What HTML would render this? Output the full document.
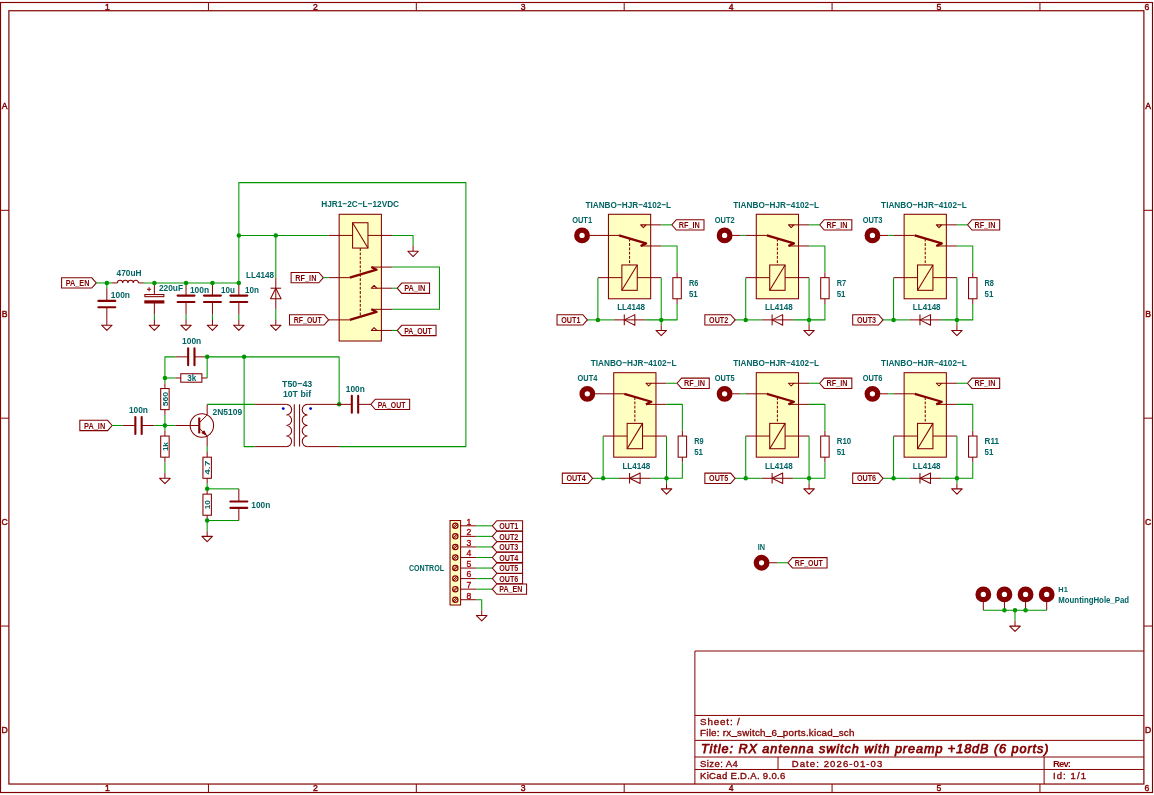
<!DOCTYPE html>
<html><head><meta charset="utf-8"><style>
html,body{margin:0;padding:0;background:#fff;width:1154px;height:795px;overflow:hidden}
svg{display:block;font-family:"Liberation Sans",sans-serif;will-change:transform}
</style></head><body>
<svg width="1154" height="795" viewBox="0 0 1154 795">
<rect width="1154" height="795" fill="#fff"/>
<g opacity="0.999">
<rect x="0.5" y="2.5" width="1152" height="790" stroke="#840000" stroke-width="1.15" fill="none"/>
<rect x="8.89" y="10.74" width="1135" height="773.29" stroke="#840000" stroke-width="1.2" fill="none"/>
<line x1="208.45" y1="2.42" x2="208.45" y2="10.74" stroke="#840000" stroke-width="1"/>
<line x1="208.45" y1="784.03" x2="208.45" y2="792.35" stroke="#840000" stroke-width="1"/>
<line x1="416.32" y1="2.42" x2="416.32" y2="10.74" stroke="#840000" stroke-width="1"/>
<line x1="416.32" y1="784.03" x2="416.32" y2="792.35" stroke="#840000" stroke-width="1"/>
<line x1="624.2" y1="2.42" x2="624.2" y2="10.74" stroke="#840000" stroke-width="1"/>
<line x1="624.2" y1="784.03" x2="624.2" y2="792.35" stroke="#840000" stroke-width="1"/>
<line x1="832.07" y1="2.42" x2="832.07" y2="10.74" stroke="#840000" stroke-width="1"/>
<line x1="832.07" y1="784.03" x2="832.07" y2="792.35" stroke="#840000" stroke-width="1"/>
<line x1="1039.95" y1="2.42" x2="1039.95" y2="10.74" stroke="#840000" stroke-width="1"/>
<line x1="1039.95" y1="784.03" x2="1039.95" y2="792.35" stroke="#840000" stroke-width="1"/>
<line x1="0.57" y1="210.3" x2="8.89" y2="210.3" stroke="#840000" stroke-width="1"/>
<line x1="1143.89" y1="210.3" x2="1152.2" y2="210.3" stroke="#840000" stroke-width="1"/>
<line x1="0.57" y1="418.18" x2="8.89" y2="418.18" stroke="#840000" stroke-width="1"/>
<line x1="1143.89" y1="418.18" x2="1152.2" y2="418.18" stroke="#840000" stroke-width="1"/>
<line x1="0.57" y1="626.05" x2="8.89" y2="626.05" stroke="#840000" stroke-width="1"/>
<line x1="1143.89" y1="626.05" x2="1152.2" y2="626.05" stroke="#840000" stroke-width="1"/>
<text x="107.41" y="9.68" font-size="8.6" fill="#840000" text-anchor="middle" stroke="#840000" stroke-width="0.45">1</text>
<text x="107.41" y="791.29" font-size="8.6" fill="#840000" text-anchor="middle" stroke="#840000" stroke-width="0.45">1</text>
<text x="315.29" y="9.68" font-size="8.6" fill="#840000" text-anchor="middle" stroke="#840000" stroke-width="0.45">2</text>
<text x="315.29" y="791.29" font-size="8.6" fill="#840000" text-anchor="middle" stroke="#840000" stroke-width="0.45">2</text>
<text x="523.16" y="9.68" font-size="8.6" fill="#840000" text-anchor="middle" stroke="#840000" stroke-width="0.45">3</text>
<text x="523.16" y="791.29" font-size="8.6" fill="#840000" text-anchor="middle" stroke="#840000" stroke-width="0.45">3</text>
<text x="731.04" y="9.68" font-size="8.6" fill="#840000" text-anchor="middle" stroke="#840000" stroke-width="0.45">4</text>
<text x="731.04" y="791.29" font-size="8.6" fill="#840000" text-anchor="middle" stroke="#840000" stroke-width="0.45">4</text>
<text x="938.91" y="9.68" font-size="8.6" fill="#840000" text-anchor="middle" stroke="#840000" stroke-width="0.45">5</text>
<text x="938.91" y="791.29" font-size="8.6" fill="#840000" text-anchor="middle" stroke="#840000" stroke-width="0.45">5</text>
<text x="1146.79" y="9.68" font-size="8.6" fill="#840000" text-anchor="middle" stroke="#840000" stroke-width="0.45">6</text>
<text x="1146.79" y="791.29" font-size="8.6" fill="#840000" text-anchor="middle" stroke="#840000" stroke-width="0.45">6</text>
<text x="4.73" y="109.46" font-size="8.6" fill="#840000" text-anchor="middle" stroke="#840000" stroke-width="0.45">A</text>
<text x="1148.04" y="109.46" font-size="8.6" fill="#840000" text-anchor="middle" stroke="#840000" stroke-width="0.45">A</text>
<text x="4.73" y="317.34" font-size="8.6" fill="#840000" text-anchor="middle" stroke="#840000" stroke-width="0.45">B</text>
<text x="1148.04" y="317.34" font-size="8.6" fill="#840000" text-anchor="middle" stroke="#840000" stroke-width="0.45">B</text>
<text x="4.73" y="525.21" font-size="8.6" fill="#840000" text-anchor="middle" stroke="#840000" stroke-width="0.45">C</text>
<text x="1148.04" y="525.21" font-size="8.6" fill="#840000" text-anchor="middle" stroke="#840000" stroke-width="0.45">C</text>
<text x="4.73" y="733.09" font-size="8.6" fill="#840000" text-anchor="middle" stroke="#840000" stroke-width="0.45">D</text>
<text x="1148.04" y="733.09" font-size="8.6" fill="#840000" text-anchor="middle" stroke="#840000" stroke-width="0.45">D</text>
<line x1="694.88" y1="651" x2="1143.89" y2="651" stroke="#840000" stroke-width="1"/>
<line x1="694.88" y1="651" x2="694.88" y2="784.03" stroke="#840000" stroke-width="1"/>
<line x1="694.88" y1="715.44" x2="1143.89" y2="715.44" stroke="#840000" stroke-width="1"/>
<line x1="694.88" y1="740.38" x2="1143.89" y2="740.38" stroke="#840000" stroke-width="1"/>
<line x1="694.88" y1="757.01" x2="1143.89" y2="757.01" stroke="#840000" stroke-width="1"/>
<line x1="694.88" y1="769.48" x2="1143.89" y2="769.48" stroke="#840000" stroke-width="1"/>
<line x1="778.03" y1="757.01" x2="778.03" y2="769.48" stroke="#840000" stroke-width="1"/>
<line x1="1044.11" y1="757.01" x2="1044.11" y2="784.03" stroke="#840000" stroke-width="1"/>
<path d="M96.28,282.93 L91.78,277.78 L61.58,277.78 L61.58,288.08 L91.78,288.08 Z" stroke="#840000" stroke-width="1.05" fill="none" stroke-linejoin="miter"/>
<text x="65.78" y="286.13" font-size="8.58" fill="#840000" font-weight="bold" textLength="23.6" lengthAdjust="spacingAndGlyphs">PA_EN</text>
<polyline points="96.28,282.93 112.12,282.93" stroke="#009600" stroke-width="1.05" fill="none" stroke-linejoin="round"/>
<polyline points="106.84,282.93 106.84,288.21" stroke="#009600" stroke-width="1.05" fill="none" stroke-linejoin="round"/>
<line x1="106.84" y1="288.21" x2="106.84" y2="300.88" stroke="#840000" stroke-width="1"/>
<line x1="106.84" y1="319.89" x2="106.84" y2="307.22" stroke="#840000" stroke-width="1"/>
<line x1="98.39" y1="300.88" x2="115.29" y2="300.88" stroke="#840000" stroke-width="2.1" stroke-linecap="round"/>
<line x1="98.39" y1="307.22" x2="115.29" y2="307.22" stroke="#840000" stroke-width="2.1" stroke-linecap="round"/>
<line x1="106.84" y1="319.89" x2="106.84" y2="325.17" stroke="#840000" stroke-width="1"/>
<polygon points="101.56,325.17 112.12,325.17 106.84,330.45" stroke="#840000" stroke-width="1.05" fill="none" stroke-linejoin="round"/>
<line x1="112.12" y1="282.93" x2="117.4" y2="282.93" stroke="#840000" stroke-width="1"/>
<line x1="143.8" y1="282.93" x2="138.52" y2="282.93" stroke="#840000" stroke-width="1"/>
<path d="M117.4,282.93 a2.64,2.64 0 0 1 5.28,0 a2.64,2.64 0 0 1 5.28,0 a2.64,2.64 0 0 1 5.28,0 a2.64,2.64 0 0 1 5.28,0" stroke="#840000" stroke-width="1.05" fill="none"/>
<polyline points="143.8,282.93 238.84,282.93" stroke="#009600" stroke-width="1.05" fill="none" stroke-linejoin="round"/>
<line x1="154.36" y1="282.93" x2="154.36" y2="294.55" stroke="#840000" stroke-width="1"/>
<line x1="154.36" y1="314.61" x2="154.36" y2="303" stroke="#840000" stroke-width="1"/>
<rect x="144.86" y="294.55" width="19.01" height="2.11" stroke="#840000" stroke-width="1.05" fill="none"/>
<rect x="144.86" y="300.88" width="19.01" height="2.11" stroke="#840000" stroke-width="1.05" fill="#840000"/>
<line x1="146.97" y1="289.27" x2="151.19" y2="289.27" stroke="#840000" stroke-width="1"/>
<line x1="149.08" y1="287.16" x2="149.08" y2="291.38" stroke="#840000" stroke-width="1"/>
<polyline points="154.36,314.61 154.36,319.89" stroke="#009600" stroke-width="1.05" fill="none" stroke-linejoin="round"/>
<line x1="154.36" y1="319.89" x2="154.36" y2="325.17" stroke="#840000" stroke-width="1"/>
<polygon points="149.08,325.17 159.64,325.17 154.36,330.45" stroke="#840000" stroke-width="1.05" fill="none" stroke-linejoin="round"/>
<line x1="186.04" y1="282.93" x2="186.04" y2="295.6" stroke="#840000" stroke-width="1"/>
<line x1="186.04" y1="314.61" x2="186.04" y2="301.94" stroke="#840000" stroke-width="1"/>
<line x1="177.59" y1="295.6" x2="194.49" y2="295.6" stroke="#840000" stroke-width="2.1" stroke-linecap="round"/>
<line x1="177.59" y1="301.94" x2="194.49" y2="301.94" stroke="#840000" stroke-width="2.1" stroke-linecap="round"/>
<polyline points="186.04,314.61 186.04,319.89" stroke="#009600" stroke-width="1.05" fill="none" stroke-linejoin="round"/>
<line x1="186.04" y1="319.89" x2="186.04" y2="325.17" stroke="#840000" stroke-width="1"/>
<polygon points="180.76,325.17 191.32,325.17 186.04,330.45" stroke="#840000" stroke-width="1.05" fill="none" stroke-linejoin="round"/>
<line x1="212.44" y1="282.93" x2="212.44" y2="295.6" stroke="#840000" stroke-width="1"/>
<line x1="212.44" y1="314.61" x2="212.44" y2="301.94" stroke="#840000" stroke-width="1"/>
<line x1="203.99" y1="295.6" x2="220.89" y2="295.6" stroke="#840000" stroke-width="2.1" stroke-linecap="round"/>
<line x1="203.99" y1="301.94" x2="220.89" y2="301.94" stroke="#840000" stroke-width="2.1" stroke-linecap="round"/>
<polyline points="212.44,314.61 212.44,319.89" stroke="#009600" stroke-width="1.05" fill="none" stroke-linejoin="round"/>
<line x1="212.44" y1="319.89" x2="212.44" y2="325.17" stroke="#840000" stroke-width="1"/>
<polygon points="207.16,325.17 217.72,325.17 212.44,330.45" stroke="#840000" stroke-width="1.05" fill="none" stroke-linejoin="round"/>
<line x1="238.84" y1="282.93" x2="238.84" y2="295.6" stroke="#840000" stroke-width="1"/>
<line x1="238.84" y1="314.61" x2="238.84" y2="301.94" stroke="#840000" stroke-width="1"/>
<line x1="230.39" y1="295.6" x2="247.29" y2="295.6" stroke="#840000" stroke-width="2.1" stroke-linecap="round"/>
<line x1="230.39" y1="301.94" x2="247.29" y2="301.94" stroke="#840000" stroke-width="2.1" stroke-linecap="round"/>
<polyline points="238.84,314.61 238.84,319.89" stroke="#009600" stroke-width="1.05" fill="none" stroke-linejoin="round"/>
<line x1="238.84" y1="319.89" x2="238.84" y2="325.17" stroke="#840000" stroke-width="1"/>
<polygon points="233.56,325.17 244.12,325.17 238.84,330.45" stroke="#840000" stroke-width="1.05" fill="none" stroke-linejoin="round"/>
<circle cx="106.84" cy="282.93" r="2.25" fill="#009600"/>
<circle cx="154.36" cy="282.93" r="2.25" fill="#009600"/>
<circle cx="186.04" cy="282.93" r="2.25" fill="#009600"/>
<circle cx="212.44" cy="282.93" r="2.25" fill="#009600"/>
<circle cx="238.84" cy="282.93" r="2.25" fill="#009600"/>
<line x1="275.8" y1="277.65" x2="275.8" y2="309.33" stroke="#840000" stroke-width="1"/>
<line x1="270.52" y1="288.21" x2="281.08" y2="288.21" stroke="#840000" stroke-width="1.05"/>
<polygon points="270.52,298.77 281.08,298.77 275.8,288.21" stroke="#840000" stroke-width="1.05" fill="none" stroke-linejoin="round"/>
<polyline points="275.8,309.33 275.8,319.89" stroke="#009600" stroke-width="1.05" fill="none" stroke-linejoin="round"/>
<line x1="275.8" y1="319.89" x2="275.8" y2="325.17" stroke="#840000" stroke-width="1"/>
<polygon points="270.52,325.17 281.08,325.17 275.8,330.45" stroke="#840000" stroke-width="1.05" fill="none" stroke-linejoin="round"/>
<polyline points="275.8,235.41 275.8,277.65" stroke="#009600" stroke-width="1.05" fill="none" stroke-linejoin="round"/>
<polyline points="238.84,282.93 238.84,182.61 465.88,182.61 465.88,446.61 339.16,446.61" stroke="#009600" stroke-width="1.05" fill="none" stroke-linejoin="round"/>
<polyline points="238.84,235.41 328.6,235.41" stroke="#009600" stroke-width="1.05" fill="none" stroke-linejoin="round"/>
<circle cx="238.84" cy="235.41" r="2.25" fill="#009600"/>
<circle cx="275.8" cy="235.41" r="2.25" fill="#009600"/>
<rect x="339.16" y="214.29" width="42.24" height="126.72" stroke="#840000" stroke-width="1.05" fill="#ffffc2"/>
<line x1="328.6" y1="235.41" x2="352.59" y2="235.41" stroke="#840000" stroke-width="1"/>
<line x1="367.97" y1="235.41" x2="391.96" y2="235.41" stroke="#840000" stroke-width="1"/>
<rect x="352.59" y="222.74" width="15.38" height="25.34" stroke="#840000" stroke-width="1.05" fill="none"/>
<line x1="352.59" y1="222.74" x2="367.97" y2="248.08" stroke="#840000" stroke-width="1.05"/>
<line x1="360.28" y1="248.08" x2="360.28" y2="316.57" stroke="#840000" stroke-width="1.05" stroke-dasharray="2.8,1.5"/>
<line x1="328.6" y1="277.65" x2="349.72" y2="277.65" stroke="#840000" stroke-width="1"/>
<polyline points="349.72,277.65 376.58,269.67 371.38,267.09" stroke="#840000" stroke-width="2.3" fill="none" stroke-linejoin="round"/>
<line x1="371.38" y1="267.09" x2="391.96" y2="267.09" stroke="#840000" stroke-width="1"/>
<polygon points="371.38,288.21 374.08,285.47 376.79,288.21" stroke="#840000" stroke-width="1.05" fill="none" stroke-linejoin="round"/>
<line x1="376.79" y1="288.21" x2="391.96" y2="288.21" stroke="#840000" stroke-width="1"/>
<line x1="328.6" y1="319.89" x2="349.72" y2="319.89" stroke="#840000" stroke-width="1"/>
<polyline points="349.72,319.89 376.58,311.91 371.38,309.33" stroke="#840000" stroke-width="2.3" fill="none" stroke-linejoin="round"/>
<line x1="371.38" y1="309.33" x2="391.96" y2="309.33" stroke="#840000" stroke-width="1"/>
<polygon points="371.38,330.45 374.08,327.71 376.79,330.45" stroke="#840000" stroke-width="1.05" fill="none" stroke-linejoin="round"/>
<line x1="376.79" y1="330.45" x2="391.96" y2="330.45" stroke="#840000" stroke-width="1"/>
<polyline points="391.96,235.41 413.08,235.41 413.08,245.97" stroke="#009600" stroke-width="1.05" fill="none" stroke-linejoin="round"/>
<line x1="413.08" y1="245.97" x2="413.08" y2="251.25" stroke="#840000" stroke-width="1"/>
<polygon points="407.8,251.25 418.36,251.25 413.08,256.53" stroke="#840000" stroke-width="1.05" fill="none" stroke-linejoin="round"/>
<polyline points="391.96,267.09 439.48,267.09 439.48,309.33 391.96,309.33" stroke="#009600" stroke-width="1.05" fill="none" stroke-linejoin="round"/>
<path d="M323.32,277.65 L318.82,272.5 L291.12,272.5 L291.12,282.8 L318.82,282.8 Z" stroke="#840000" stroke-width="1.05" fill="none" stroke-linejoin="miter"/>
<text x="295.32" y="280.85" font-size="8.58" fill="#840000" font-weight="bold" textLength="21.1" lengthAdjust="spacingAndGlyphs">RF_IN</text>
<polyline points="323.32,277.65 328.6,277.65" stroke="#009600" stroke-width="1.05" fill="none" stroke-linejoin="round"/>
<path d="M328.6,319.89 L324.1,314.74 L289.5,314.74 L289.5,325.04 L324.1,325.04 Z" stroke="#840000" stroke-width="1.05" fill="none" stroke-linejoin="miter"/>
<text x="293.7" y="323.09" font-size="8.58" fill="#840000" font-weight="bold" textLength="28" lengthAdjust="spacingAndGlyphs">RF_OUT</text>
<path d="M397.24,288.21 L401.74,283.06 L429.54,283.06 L429.54,293.36 L401.74,293.36 Z" stroke="#840000" stroke-width="1.05" fill="none" stroke-linejoin="miter"/>
<text x="404.14" y="291.41" font-size="8.58" fill="#840000" font-weight="bold" textLength="21.2" lengthAdjust="spacingAndGlyphs">PA_IN</text>
<polyline points="391.96,288.21 397.24,288.21" stroke="#009600" stroke-width="1.05" fill="none" stroke-linejoin="round"/>
<path d="M397.24,330.45 L401.74,325.3 L436.04,325.3 L436.04,335.6 L401.74,335.6 Z" stroke="#840000" stroke-width="1.05" fill="none" stroke-linejoin="miter"/>
<text x="404.14" y="333.65" font-size="8.58" fill="#840000" font-weight="bold" textLength="27.7" lengthAdjust="spacingAndGlyphs">PA_OUT</text>
<polyline points="391.96,330.45 397.24,330.45" stroke="#009600" stroke-width="1.05" fill="none" stroke-linejoin="round"/>
<polyline points="164.92,377.97 164.92,356.85 175.48,356.85" stroke="#009600" stroke-width="1.05" fill="none" stroke-linejoin="round"/>
<line x1="175.48" y1="356.85" x2="188.15" y2="356.85" stroke="#840000" stroke-width="1"/>
<line x1="207.16" y1="356.85" x2="194.49" y2="356.85" stroke="#840000" stroke-width="1"/>
<line x1="188.15" y1="348.4" x2="188.15" y2="365.3" stroke="#840000" stroke-width="2.1" stroke-linecap="round"/>
<line x1="194.49" y1="348.4" x2="194.49" y2="365.3" stroke="#840000" stroke-width="2.1" stroke-linecap="round"/>
<polyline points="207.16,356.85 339.16,356.85 339.16,404.37" stroke="#009600" stroke-width="1.05" fill="none" stroke-linejoin="round"/>
<circle cx="207.16" cy="356.85" r="2.25" fill="#009600"/>
<circle cx="244.12" cy="356.85" r="2.25" fill="#009600"/>
<circle cx="339.16" cy="404.37" r="2.25" fill="#009600"/>
<line x1="175.48" y1="377.97" x2="180.76" y2="377.97" stroke="#840000" stroke-width="1"/>
<line x1="207.16" y1="377.97" x2="201.88" y2="377.97" stroke="#840000" stroke-width="1"/>
<rect x="180.76" y="373.75" width="21.12" height="8.45" stroke="#840000" stroke-width="1.05" fill="none"/>
<polyline points="164.92,377.97 175.48,377.97" stroke="#009600" stroke-width="1.05" fill="none" stroke-linejoin="round"/>
<polyline points="207.16,377.97 207.16,356.85" stroke="#009600" stroke-width="1.05" fill="none" stroke-linejoin="round"/>
<circle cx="164.92" cy="377.97" r="2.25" fill="#009600"/>
<line x1="164.92" y1="383.25" x2="164.92" y2="388.53" stroke="#840000" stroke-width="1"/>
<line x1="164.92" y1="414.93" x2="164.92" y2="409.65" stroke="#840000" stroke-width="1"/>
<rect x="160.7" y="388.53" width="8.45" height="21.12" stroke="#840000" stroke-width="1.05" fill="none"/>
<polyline points="164.92,377.97 164.92,383.25" stroke="#009600" stroke-width="1.05" fill="none" stroke-linejoin="round"/>
<polyline points="164.92,414.93 164.92,430.77" stroke="#009600" stroke-width="1.05" fill="none" stroke-linejoin="round"/>
<circle cx="164.92" cy="425.49" r="2.25" fill="#009600"/>
<line x1="164.92" y1="430.77" x2="164.92" y2="436.05" stroke="#840000" stroke-width="1"/>
<line x1="164.92" y1="462.45" x2="164.92" y2="457.17" stroke="#840000" stroke-width="1"/>
<rect x="160.7" y="436.05" width="8.45" height="21.12" stroke="#840000" stroke-width="1.05" fill="none"/>
<polyline points="164.92,462.45 164.92,473.01" stroke="#009600" stroke-width="1.05" fill="none" stroke-linejoin="round"/>
<line x1="164.92" y1="473.01" x2="164.92" y2="478.29" stroke="#840000" stroke-width="1"/>
<polygon points="159.64,478.29 170.2,478.29 164.92,483.57" stroke="#840000" stroke-width="1.05" fill="none" stroke-linejoin="round"/>
<path d="M112.12,425.49 L107.62,420.34 L79.82,420.34 L79.82,430.64 L107.62,430.64 Z" stroke="#840000" stroke-width="1.05" fill="none" stroke-linejoin="miter"/>
<text x="84.02" y="428.69" font-size="8.58" fill="#840000" font-weight="bold" textLength="21.2" lengthAdjust="spacingAndGlyphs">PA_IN</text>
<polyline points="112.12,425.49 122.68,425.49" stroke="#009600" stroke-width="1.05" fill="none" stroke-linejoin="round"/>
<line x1="122.68" y1="425.49" x2="135.35" y2="425.49" stroke="#840000" stroke-width="1"/>
<line x1="154.36" y1="425.49" x2="141.69" y2="425.49" stroke="#840000" stroke-width="1"/>
<line x1="135.35" y1="417.04" x2="135.35" y2="433.94" stroke="#840000" stroke-width="2.1" stroke-linecap="round"/>
<line x1="141.69" y1="417.04" x2="141.69" y2="433.94" stroke="#840000" stroke-width="2.1" stroke-linecap="round"/>
<polyline points="154.36,425.49 175.48,425.49" stroke="#009600" stroke-width="1.05" fill="none" stroke-linejoin="round"/>
<circle cx="201.88" cy="425.49" r="11.72" stroke="#840000" stroke-width="1.05" fill="none"/>
<line x1="175.48" y1="425.49" x2="199.24" y2="425.49" stroke="#840000" stroke-width="1"/>
<line x1="199.24" y1="417.57" x2="199.24" y2="433.41" stroke="#840000" stroke-width="2.1"/>
<line x1="199.24" y1="422.85" x2="207.16" y2="414.93" stroke="#840000" stroke-width="1"/>
<line x1="199.24" y1="428.13" x2="207.16" y2="436.05" stroke="#840000" stroke-width="1"/>
<line x1="207.16" y1="414.93" x2="207.16" y2="404.37" stroke="#840000" stroke-width="1"/>
<line x1="207.16" y1="436.05" x2="207.16" y2="446.61" stroke="#840000" stroke-width="1"/>
<polygon points="201.88,432.88 203.99,430.77 206.11,435" stroke="#840000" stroke-width="1" fill="#840000" stroke-linejoin="round"/>
<polyline points="207.16,404.37 254.68,404.37" stroke="#009600" stroke-width="1.05" fill="none" stroke-linejoin="round"/>
<line x1="254.68" y1="404.37" x2="286.36" y2="404.37" stroke="#840000" stroke-width="1"/>
<line x1="254.68" y1="446.61" x2="286.36" y2="446.61" stroke="#840000" stroke-width="1"/>
<line x1="339.16" y1="404.37" x2="307.48" y2="404.37" stroke="#840000" stroke-width="1"/>
<line x1="339.16" y1="446.61" x2="307.48" y2="446.61" stroke="#840000" stroke-width="1"/>
<line x1="294.28" y1="404.37" x2="294.28" y2="446.61" stroke="#840000" stroke-width="1.05"/>
<line x1="299.56" y1="404.37" x2="299.56" y2="446.61" stroke="#840000" stroke-width="1.05"/>
<path d="M286.36,404.37 a5.28,5.28 0 0 1 0,10.56 a5.28,5.28 0 0 1 0,10.56 a5.28,5.28 0 0 1 0,10.56 a5.28,5.28 0 0 1 0,10.56 M307.48,404.37 a5.28,5.28 0 0 0 0,10.56 a5.28,5.28 0 0 0 0,10.56 a5.28,5.28 0 0 0 0,10.56 a5.28,5.28 0 0 0 0,10.56" stroke="#840000" stroke-width="1.05" fill="none"/>
<circle cx="283.22" cy="408.59" r="1.4" fill="#0000c2"/>
<circle cx="310.62" cy="408.59" r="1.4" fill="#0000c2"/>
<line x1="339.16" y1="404.37" x2="351.83" y2="404.37" stroke="#840000" stroke-width="1"/>
<line x1="370.84" y1="404.37" x2="358.17" y2="404.37" stroke="#840000" stroke-width="1"/>
<line x1="351.83" y1="395.92" x2="351.83" y2="412.82" stroke="#840000" stroke-width="2.1" stroke-linecap="round"/>
<line x1="358.17" y1="395.92" x2="358.17" y2="412.82" stroke="#840000" stroke-width="2.1" stroke-linecap="round"/>
<path d="M370.84,404.37 L375.34,399.22 L409.64,399.22 L409.64,409.52 L375.34,409.52 Z" stroke="#840000" stroke-width="1.05" fill="none" stroke-linejoin="miter"/>
<text x="377.74" y="407.57" font-size="8.58" fill="#840000" font-weight="bold" textLength="27.7" lengthAdjust="spacingAndGlyphs">PA_OUT</text>
<polyline points="244.12,356.85 244.12,446.61 254.68,446.61" stroke="#009600" stroke-width="1.05" fill="none" stroke-linejoin="round"/>
<polyline points="207.16,446.61 207.16,451.89" stroke="#009600" stroke-width="1.05" fill="none" stroke-linejoin="round"/>
<line x1="207.16" y1="451.89" x2="207.16" y2="457.17" stroke="#840000" stroke-width="1"/>
<line x1="207.16" y1="483.57" x2="207.16" y2="478.29" stroke="#840000" stroke-width="1"/>
<rect x="202.94" y="457.17" width="8.45" height="21.12" stroke="#840000" stroke-width="1.05" fill="none"/>
<polyline points="207.16,483.57 207.16,488.85" stroke="#009600" stroke-width="1.05" fill="none" stroke-linejoin="round"/>
<line x1="207.16" y1="488.85" x2="207.16" y2="494.13" stroke="#840000" stroke-width="1"/>
<line x1="207.16" y1="520.53" x2="207.16" y2="515.25" stroke="#840000" stroke-width="1"/>
<rect x="202.94" y="494.13" width="8.45" height="21.12" stroke="#840000" stroke-width="1.05" fill="none"/>
<polyline points="207.16,488.85 238.84,488.85" stroke="#009600" stroke-width="1.05" fill="none" stroke-linejoin="round"/>
<polyline points="207.16,520.53 238.84,520.53" stroke="#009600" stroke-width="1.05" fill="none" stroke-linejoin="round"/>
<polyline points="207.16,520.53 207.16,531.09" stroke="#009600" stroke-width="1.05" fill="none" stroke-linejoin="round"/>
<line x1="238.84" y1="488.85" x2="238.84" y2="501.52" stroke="#840000" stroke-width="1"/>
<line x1="238.84" y1="520.53" x2="238.84" y2="507.86" stroke="#840000" stroke-width="1"/>
<line x1="230.39" y1="501.52" x2="247.29" y2="501.52" stroke="#840000" stroke-width="2.1" stroke-linecap="round"/>
<line x1="230.39" y1="507.86" x2="247.29" y2="507.86" stroke="#840000" stroke-width="2.1" stroke-linecap="round"/>
<circle cx="207.16" cy="488.85" r="2.25" fill="#009600"/>
<circle cx="207.16" cy="520.53" r="2.25" fill="#009600"/>
<line x1="207.16" y1="531.09" x2="207.16" y2="536.37" stroke="#840000" stroke-width="1"/>
<polygon points="201.88,536.37 212.44,536.37 207.16,541.65" stroke="#840000" stroke-width="1.05" fill="none" stroke-linejoin="round"/>
<rect x="608.44" y="214.29" width="42.24" height="84.48" stroke="#840000" stroke-width="1.05" fill="#ffffc2"/>
<circle cx="582.04" cy="235.41" r="5.28" stroke="#840000" stroke-width="5.28" fill="none"/>
<line x1="589.53" y1="235.41" x2="597.88" y2="235.41" stroke="#840000" stroke-width="1"/>
<line x1="597.88" y1="235.41" x2="619" y2="235.41" stroke="#840000" stroke-width="1"/>
<polyline points="619,235.41 646.07,243.35 640.66,245.97" stroke="#840000" stroke-width="2.3" fill="none" stroke-linejoin="round"/>
<line x1="640.66" y1="245.97" x2="661.24" y2="245.97" stroke="#840000" stroke-width="1"/>
<polygon points="640.66,224.85 643.37,227.6 646.07,224.85" stroke="#840000" stroke-width="1.05" fill="none" stroke-linejoin="round"/>
<line x1="646.07" y1="224.85" x2="661.24" y2="224.85" stroke="#840000" stroke-width="1"/>
<line x1="629.56" y1="238.82" x2="629.56" y2="264.98" stroke="#840000" stroke-width="1.05" stroke-dasharray="2.8,1.5"/>
<rect x="621.87" y="264.98" width="15.38" height="25.34" stroke="#840000" stroke-width="1.05" fill="none"/>
<line x1="621.87" y1="290.32" x2="637.25" y2="264.98" stroke="#840000" stroke-width="1.05"/>
<line x1="597.88" y1="277.65" x2="621.87" y2="277.65" stroke="#840000" stroke-width="1"/>
<line x1="637.25" y1="277.65" x2="661.24" y2="277.65" stroke="#840000" stroke-width="1"/>
<polyline points="597.88,277.65 597.88,319.89" stroke="#009600" stroke-width="1.05" fill="none" stroke-linejoin="round"/>
<polyline points="661.24,277.65 661.24,319.89" stroke="#009600" stroke-width="1.05" fill="none" stroke-linejoin="round"/>
<line x1="613.72" y1="319.89" x2="645.4" y2="319.89" stroke="#840000" stroke-width="1"/>
<line x1="624.28" y1="314.61" x2="624.28" y2="325.17" stroke="#840000" stroke-width="1.05"/>
<polygon points="634.84,314.61 634.84,325.17 624.28,319.89" stroke="#840000" stroke-width="1.05" fill="none" stroke-linejoin="round"/>
<polyline points="587.32,319.89 613.72,319.89" stroke="#009600" stroke-width="1.05" fill="none" stroke-linejoin="round"/>
<polyline points="645.4,319.89 677.08,319.89 677.08,304.05" stroke="#009600" stroke-width="1.05" fill="none" stroke-linejoin="round"/>
<line x1="677.08" y1="272.37" x2="677.08" y2="277.65" stroke="#840000" stroke-width="1"/>
<line x1="677.08" y1="304.05" x2="677.08" y2="298.77" stroke="#840000" stroke-width="1"/>
<rect x="672.86" y="277.65" width="8.45" height="21.12" stroke="#840000" stroke-width="1.05" fill="none"/>
<polyline points="661.24,245.97 677.08,245.97 677.08,272.37" stroke="#009600" stroke-width="1.05" fill="none" stroke-linejoin="round"/>
<circle cx="597.88" cy="319.89" r="2.25" fill="#009600"/>
<circle cx="661.24" cy="319.89" r="2.25" fill="#009600"/>
<polyline points="661.24,319.89 661.24,325.17" stroke="#009600" stroke-width="1.05" fill="none" stroke-linejoin="round"/>
<line x1="661.24" y1="325.17" x2="661.24" y2="330.45" stroke="#840000" stroke-width="1"/>
<polygon points="655.96,330.45 666.52,330.45 661.24,335.73" stroke="#840000" stroke-width="1.05" fill="none" stroke-linejoin="round"/>
<path d="M671.8,224.85 L676.3,219.7 L704,219.7 L704,230 L676.3,230 Z" stroke="#840000" stroke-width="1.05" fill="none" stroke-linejoin="miter"/>
<text x="678.7" y="228.05" font-size="8.58" fill="#840000" font-weight="bold" textLength="21.1" lengthAdjust="spacingAndGlyphs">RF_IN</text>
<polyline points="661.24,224.85 671.8,224.85" stroke="#009600" stroke-width="1.05" fill="none" stroke-linejoin="round"/>
<path d="M587.32,319.89 L582.82,314.74 L557.02,314.74 L557.02,325.04 L582.82,325.04 Z" stroke="#840000" stroke-width="1.05" fill="none" stroke-linejoin="miter"/>
<text x="561.22" y="323.09" font-size="8.58" fill="#840000" font-weight="bold" textLength="19.2" lengthAdjust="spacingAndGlyphs">OUT1</text>
<text x="585.44" y="208.09" font-size="9.26" fill="#006464" font-weight="bold" textLength="85.7" lengthAdjust="spacingAndGlyphs">TIANBO−HJR−4102−L</text>
<text x="572.24" y="222.59" font-size="9.53" fill="#006464" font-weight="bold" textLength="19.8" lengthAdjust="spacingAndGlyphs">OUT1</text>
<text x="688.88" y="286.09" font-size="8.85" fill="#006464" font-weight="bold" textLength="9.4" lengthAdjust="spacingAndGlyphs">R6</text>
<text x="688.88" y="296.69" font-size="9.39" fill="#006464" font-weight="bold" textLength="8.8" lengthAdjust="spacingAndGlyphs">51</text>
<text x="617.14" y="310.19" font-size="8.99" fill="#006464" font-weight="bold" textLength="27.8" lengthAdjust="spacingAndGlyphs">LL4148</text>
<rect x="756.28" y="214.29" width="42.24" height="84.48" stroke="#840000" stroke-width="1.05" fill="#ffffc2"/>
<circle cx="724.6" cy="235.41" r="5.28" stroke="#840000" stroke-width="5.28" fill="none"/>
<line x1="732.09" y1="235.41" x2="740.44" y2="235.41" stroke="#840000" stroke-width="1"/>
<polyline points="740.44,235.41 745.72,235.41" stroke="#009600" stroke-width="1.05" fill="none" stroke-linejoin="round"/>
<line x1="745.72" y1="235.41" x2="766.84" y2="235.41" stroke="#840000" stroke-width="1"/>
<polyline points="766.84,235.41 793.91,243.35 788.5,245.97" stroke="#840000" stroke-width="2.3" fill="none" stroke-linejoin="round"/>
<line x1="788.5" y1="245.97" x2="809.08" y2="245.97" stroke="#840000" stroke-width="1"/>
<polygon points="788.5,224.85 791.21,227.6 793.91,224.85" stroke="#840000" stroke-width="1.05" fill="none" stroke-linejoin="round"/>
<line x1="793.91" y1="224.85" x2="809.08" y2="224.85" stroke="#840000" stroke-width="1"/>
<line x1="777.4" y1="238.82" x2="777.4" y2="264.98" stroke="#840000" stroke-width="1.05" stroke-dasharray="2.8,1.5"/>
<rect x="769.71" y="264.98" width="15.38" height="25.34" stroke="#840000" stroke-width="1.05" fill="none"/>
<line x1="769.71" y1="290.32" x2="785.1" y2="264.98" stroke="#840000" stroke-width="1.05"/>
<line x1="745.72" y1="277.65" x2="769.71" y2="277.65" stroke="#840000" stroke-width="1"/>
<line x1="785.1" y1="277.65" x2="809.08" y2="277.65" stroke="#840000" stroke-width="1"/>
<polyline points="745.72,277.65 745.72,319.89" stroke="#009600" stroke-width="1.05" fill="none" stroke-linejoin="round"/>
<polyline points="809.08,277.65 809.08,319.89" stroke="#009600" stroke-width="1.05" fill="none" stroke-linejoin="round"/>
<line x1="761.56" y1="319.89" x2="793.24" y2="319.89" stroke="#840000" stroke-width="1"/>
<line x1="772.12" y1="314.61" x2="772.12" y2="325.17" stroke="#840000" stroke-width="1.05"/>
<polygon points="782.68,314.61 782.68,325.17 772.12,319.89" stroke="#840000" stroke-width="1.05" fill="none" stroke-linejoin="round"/>
<polyline points="735.16,319.89 761.56,319.89" stroke="#009600" stroke-width="1.05" fill="none" stroke-linejoin="round"/>
<polyline points="793.24,319.89 824.92,319.89 824.92,304.05" stroke="#009600" stroke-width="1.05" fill="none" stroke-linejoin="round"/>
<line x1="824.92" y1="272.37" x2="824.92" y2="277.65" stroke="#840000" stroke-width="1"/>
<line x1="824.92" y1="304.05" x2="824.92" y2="298.77" stroke="#840000" stroke-width="1"/>
<rect x="820.7" y="277.65" width="8.45" height="21.12" stroke="#840000" stroke-width="1.05" fill="none"/>
<polyline points="809.08,245.97 824.92,245.97 824.92,272.37" stroke="#009600" stroke-width="1.05" fill="none" stroke-linejoin="round"/>
<circle cx="745.72" cy="319.89" r="2.25" fill="#009600"/>
<circle cx="809.08" cy="319.89" r="2.25" fill="#009600"/>
<polyline points="809.08,319.89 809.08,325.17" stroke="#009600" stroke-width="1.05" fill="none" stroke-linejoin="round"/>
<line x1="809.08" y1="325.17" x2="809.08" y2="330.45" stroke="#840000" stroke-width="1"/>
<polygon points="803.8,330.45 814.36,330.45 809.08,335.73" stroke="#840000" stroke-width="1.05" fill="none" stroke-linejoin="round"/>
<path d="M819.64,224.85 L824.14,219.7 L851.84,219.7 L851.84,230 L824.14,230 Z" stroke="#840000" stroke-width="1.05" fill="none" stroke-linejoin="miter"/>
<text x="826.54" y="228.05" font-size="8.58" fill="#840000" font-weight="bold" textLength="21.1" lengthAdjust="spacingAndGlyphs">RF_IN</text>
<polyline points="809.08,224.85 819.64,224.85" stroke="#009600" stroke-width="1.05" fill="none" stroke-linejoin="round"/>
<path d="M735.16,319.89 L730.66,314.74 L704.86,314.74 L704.86,325.04 L730.66,325.04 Z" stroke="#840000" stroke-width="1.05" fill="none" stroke-linejoin="miter"/>
<text x="709.06" y="323.09" font-size="8.58" fill="#840000" font-weight="bold" textLength="19.2" lengthAdjust="spacingAndGlyphs">OUT2</text>
<text x="733.28" y="208.09" font-size="9.26" fill="#006464" font-weight="bold" textLength="85.7" lengthAdjust="spacingAndGlyphs">TIANBO−HJR−4102−L</text>
<text x="714.8" y="222.59" font-size="9.53" fill="#006464" font-weight="bold" textLength="19.8" lengthAdjust="spacingAndGlyphs">OUT2</text>
<text x="836.72" y="286.09" font-size="8.85" fill="#006464" font-weight="bold" textLength="9.4" lengthAdjust="spacingAndGlyphs">R7</text>
<text x="836.72" y="296.69" font-size="9.39" fill="#006464" font-weight="bold" textLength="8.8" lengthAdjust="spacingAndGlyphs">51</text>
<text x="764.98" y="310.19" font-size="8.99" fill="#006464" font-weight="bold" textLength="27.8" lengthAdjust="spacingAndGlyphs">LL4148</text>
<rect x="904.12" y="214.29" width="42.24" height="84.48" stroke="#840000" stroke-width="1.05" fill="#ffffc2"/>
<circle cx="872.44" cy="235.41" r="5.28" stroke="#840000" stroke-width="5.28" fill="none"/>
<line x1="879.93" y1="235.41" x2="888.28" y2="235.41" stroke="#840000" stroke-width="1"/>
<polyline points="888.28,235.41 893.56,235.41" stroke="#009600" stroke-width="1.05" fill="none" stroke-linejoin="round"/>
<line x1="893.56" y1="235.41" x2="914.68" y2="235.41" stroke="#840000" stroke-width="1"/>
<polyline points="914.68,235.41 941.75,243.35 936.35,245.97" stroke="#840000" stroke-width="2.3" fill="none" stroke-linejoin="round"/>
<line x1="936.35" y1="245.97" x2="956.92" y2="245.97" stroke="#840000" stroke-width="1"/>
<polygon points="936.35,224.85 939.05,227.6 941.75,224.85" stroke="#840000" stroke-width="1.05" fill="none" stroke-linejoin="round"/>
<line x1="941.75" y1="224.85" x2="956.92" y2="224.85" stroke="#840000" stroke-width="1"/>
<line x1="925.24" y1="238.82" x2="925.24" y2="264.98" stroke="#840000" stroke-width="1.05" stroke-dasharray="2.8,1.5"/>
<rect x="917.55" y="264.98" width="15.38" height="25.34" stroke="#840000" stroke-width="1.05" fill="none"/>
<line x1="917.55" y1="290.32" x2="932.94" y2="264.98" stroke="#840000" stroke-width="1.05"/>
<line x1="893.56" y1="277.65" x2="917.55" y2="277.65" stroke="#840000" stroke-width="1"/>
<line x1="932.94" y1="277.65" x2="956.92" y2="277.65" stroke="#840000" stroke-width="1"/>
<polyline points="893.56,277.65 893.56,319.89" stroke="#009600" stroke-width="1.05" fill="none" stroke-linejoin="round"/>
<polyline points="956.92,277.65 956.92,319.89" stroke="#009600" stroke-width="1.05" fill="none" stroke-linejoin="round"/>
<line x1="909.4" y1="319.89" x2="941.08" y2="319.89" stroke="#840000" stroke-width="1"/>
<line x1="919.96" y1="314.61" x2="919.96" y2="325.17" stroke="#840000" stroke-width="1.05"/>
<polygon points="930.52,314.61 930.52,325.17 919.96,319.89" stroke="#840000" stroke-width="1.05" fill="none" stroke-linejoin="round"/>
<polyline points="883,319.89 909.4,319.89" stroke="#009600" stroke-width="1.05" fill="none" stroke-linejoin="round"/>
<polyline points="941.08,319.89 972.76,319.89 972.76,304.05" stroke="#009600" stroke-width="1.05" fill="none" stroke-linejoin="round"/>
<line x1="972.76" y1="272.37" x2="972.76" y2="277.65" stroke="#840000" stroke-width="1"/>
<line x1="972.76" y1="304.05" x2="972.76" y2="298.77" stroke="#840000" stroke-width="1"/>
<rect x="968.54" y="277.65" width="8.45" height="21.12" stroke="#840000" stroke-width="1.05" fill="none"/>
<polyline points="956.92,245.97 972.76,245.97 972.76,272.37" stroke="#009600" stroke-width="1.05" fill="none" stroke-linejoin="round"/>
<circle cx="893.56" cy="319.89" r="2.25" fill="#009600"/>
<circle cx="956.92" cy="319.89" r="2.25" fill="#009600"/>
<polyline points="956.92,319.89 956.92,325.17" stroke="#009600" stroke-width="1.05" fill="none" stroke-linejoin="round"/>
<line x1="956.92" y1="325.17" x2="956.92" y2="330.45" stroke="#840000" stroke-width="1"/>
<polygon points="951.64,330.45 962.2,330.45 956.92,335.73" stroke="#840000" stroke-width="1.05" fill="none" stroke-linejoin="round"/>
<path d="M967.48,224.85 L971.98,219.7 L999.68,219.7 L999.68,230 L971.98,230 Z" stroke="#840000" stroke-width="1.05" fill="none" stroke-linejoin="miter"/>
<text x="974.38" y="228.05" font-size="8.58" fill="#840000" font-weight="bold" textLength="21.1" lengthAdjust="spacingAndGlyphs">RF_IN</text>
<polyline points="956.92,224.85 967.48,224.85" stroke="#009600" stroke-width="1.05" fill="none" stroke-linejoin="round"/>
<path d="M883,319.89 L878.5,314.74 L852.7,314.74 L852.7,325.04 L878.5,325.04 Z" stroke="#840000" stroke-width="1.05" fill="none" stroke-linejoin="miter"/>
<text x="856.9" y="323.09" font-size="8.58" fill="#840000" font-weight="bold" textLength="19.2" lengthAdjust="spacingAndGlyphs">OUT3</text>
<text x="881.12" y="208.09" font-size="9.26" fill="#006464" font-weight="bold" textLength="85.7" lengthAdjust="spacingAndGlyphs">TIANBO−HJR−4102−L</text>
<text x="862.64" y="222.59" font-size="9.53" fill="#006464" font-weight="bold" textLength="19.8" lengthAdjust="spacingAndGlyphs">OUT3</text>
<text x="984.56" y="286.09" font-size="8.85" fill="#006464" font-weight="bold" textLength="9.4" lengthAdjust="spacingAndGlyphs">R8</text>
<text x="984.56" y="296.69" font-size="9.39" fill="#006464" font-weight="bold" textLength="8.8" lengthAdjust="spacingAndGlyphs">51</text>
<text x="912.82" y="310.19" font-size="8.99" fill="#006464" font-weight="bold" textLength="27.8" lengthAdjust="spacingAndGlyphs">LL4148</text>
<rect x="613.72" y="372.69" width="42.24" height="84.48" stroke="#840000" stroke-width="1.05" fill="#ffffc2"/>
<circle cx="587.32" cy="393.81" r="5.28" stroke="#840000" stroke-width="5.28" fill="none"/>
<line x1="594.81" y1="393.81" x2="603.16" y2="393.81" stroke="#840000" stroke-width="1"/>
<line x1="603.16" y1="393.81" x2="624.28" y2="393.81" stroke="#840000" stroke-width="1"/>
<polyline points="624.28,393.81 651.35,401.75 645.94,404.37" stroke="#840000" stroke-width="2.3" fill="none" stroke-linejoin="round"/>
<line x1="645.94" y1="404.37" x2="666.52" y2="404.37" stroke="#840000" stroke-width="1"/>
<polygon points="645.94,383.25 648.65,386 651.35,383.25" stroke="#840000" stroke-width="1.05" fill="none" stroke-linejoin="round"/>
<line x1="651.35" y1="383.25" x2="666.52" y2="383.25" stroke="#840000" stroke-width="1"/>
<line x1="634.84" y1="397.22" x2="634.84" y2="423.38" stroke="#840000" stroke-width="1.05" stroke-dasharray="2.8,1.5"/>
<rect x="627.15" y="423.38" width="15.38" height="25.34" stroke="#840000" stroke-width="1.05" fill="none"/>
<line x1="627.15" y1="448.72" x2="642.53" y2="423.38" stroke="#840000" stroke-width="1.05"/>
<line x1="603.16" y1="436.05" x2="627.15" y2="436.05" stroke="#840000" stroke-width="1"/>
<line x1="642.53" y1="436.05" x2="666.52" y2="436.05" stroke="#840000" stroke-width="1"/>
<polyline points="603.16,436.05 603.16,478.29" stroke="#009600" stroke-width="1.05" fill="none" stroke-linejoin="round"/>
<polyline points="666.52,436.05 666.52,478.29" stroke="#009600" stroke-width="1.05" fill="none" stroke-linejoin="round"/>
<line x1="619" y1="478.29" x2="650.68" y2="478.29" stroke="#840000" stroke-width="1"/>
<line x1="629.56" y1="473.01" x2="629.56" y2="483.57" stroke="#840000" stroke-width="1.05"/>
<polygon points="640.12,473.01 640.12,483.57 629.56,478.29" stroke="#840000" stroke-width="1.05" fill="none" stroke-linejoin="round"/>
<polyline points="592.6,478.29 619,478.29" stroke="#009600" stroke-width="1.05" fill="none" stroke-linejoin="round"/>
<polyline points="650.68,478.29 682.36,478.29 682.36,462.45" stroke="#009600" stroke-width="1.05" fill="none" stroke-linejoin="round"/>
<line x1="682.36" y1="430.77" x2="682.36" y2="436.05" stroke="#840000" stroke-width="1"/>
<line x1="682.36" y1="462.45" x2="682.36" y2="457.17" stroke="#840000" stroke-width="1"/>
<rect x="678.14" y="436.05" width="8.45" height="21.12" stroke="#840000" stroke-width="1.05" fill="none"/>
<polyline points="666.52,404.37 682.36,404.37 682.36,430.77" stroke="#009600" stroke-width="1.05" fill="none" stroke-linejoin="round"/>
<circle cx="603.16" cy="478.29" r="2.25" fill="#009600"/>
<circle cx="666.52" cy="478.29" r="2.25" fill="#009600"/>
<polyline points="666.52,478.29 666.52,483.57" stroke="#009600" stroke-width="1.05" fill="none" stroke-linejoin="round"/>
<line x1="666.52" y1="483.57" x2="666.52" y2="488.85" stroke="#840000" stroke-width="1"/>
<polygon points="661.24,488.85 671.8,488.85 666.52,494.13" stroke="#840000" stroke-width="1.05" fill="none" stroke-linejoin="round"/>
<path d="M677.08,383.25 L681.58,378.1 L709.28,378.1 L709.28,388.4 L681.58,388.4 Z" stroke="#840000" stroke-width="1.05" fill="none" stroke-linejoin="miter"/>
<text x="683.98" y="386.45" font-size="8.58" fill="#840000" font-weight="bold" textLength="21.1" lengthAdjust="spacingAndGlyphs">RF_IN</text>
<polyline points="666.52,383.25 677.08,383.25" stroke="#009600" stroke-width="1.05" fill="none" stroke-linejoin="round"/>
<path d="M592.6,478.29 L588.1,473.14 L562.3,473.14 L562.3,483.44 L588.1,483.44 Z" stroke="#840000" stroke-width="1.05" fill="none" stroke-linejoin="miter"/>
<text x="566.5" y="481.49" font-size="8.58" fill="#840000" font-weight="bold" textLength="19.2" lengthAdjust="spacingAndGlyphs">OUT4</text>
<text x="590.72" y="366.49" font-size="9.26" fill="#006464" font-weight="bold" textLength="85.7" lengthAdjust="spacingAndGlyphs">TIANBO−HJR−4102−L</text>
<text x="577.52" y="380.99" font-size="9.53" fill="#006464" font-weight="bold" textLength="19.8" lengthAdjust="spacingAndGlyphs">OUT4</text>
<text x="694.16" y="444.49" font-size="8.85" fill="#006464" font-weight="bold" textLength="9.4" lengthAdjust="spacingAndGlyphs">R9</text>
<text x="694.16" y="455.09" font-size="9.39" fill="#006464" font-weight="bold" textLength="8.8" lengthAdjust="spacingAndGlyphs">51</text>
<text x="622.42" y="468.59" font-size="8.99" fill="#006464" font-weight="bold" textLength="27.8" lengthAdjust="spacingAndGlyphs">LL4148</text>
<rect x="756.28" y="372.69" width="42.24" height="84.48" stroke="#840000" stroke-width="1.05" fill="#ffffc2"/>
<circle cx="724.6" cy="393.81" r="5.28" stroke="#840000" stroke-width="5.28" fill="none"/>
<line x1="732.09" y1="393.81" x2="740.44" y2="393.81" stroke="#840000" stroke-width="1"/>
<polyline points="740.44,393.81 745.72,393.81" stroke="#009600" stroke-width="1.05" fill="none" stroke-linejoin="round"/>
<line x1="745.72" y1="393.81" x2="766.84" y2="393.81" stroke="#840000" stroke-width="1"/>
<polyline points="766.84,393.81 793.91,401.75 788.5,404.37" stroke="#840000" stroke-width="2.3" fill="none" stroke-linejoin="round"/>
<line x1="788.5" y1="404.37" x2="809.08" y2="404.37" stroke="#840000" stroke-width="1"/>
<polygon points="788.5,383.25 791.21,386 793.91,383.25" stroke="#840000" stroke-width="1.05" fill="none" stroke-linejoin="round"/>
<line x1="793.91" y1="383.25" x2="809.08" y2="383.25" stroke="#840000" stroke-width="1"/>
<line x1="777.4" y1="397.22" x2="777.4" y2="423.38" stroke="#840000" stroke-width="1.05" stroke-dasharray="2.8,1.5"/>
<rect x="769.71" y="423.38" width="15.38" height="25.34" stroke="#840000" stroke-width="1.05" fill="none"/>
<line x1="769.71" y1="448.72" x2="785.1" y2="423.38" stroke="#840000" stroke-width="1.05"/>
<line x1="745.72" y1="436.05" x2="769.71" y2="436.05" stroke="#840000" stroke-width="1"/>
<line x1="785.1" y1="436.05" x2="809.08" y2="436.05" stroke="#840000" stroke-width="1"/>
<polyline points="745.72,436.05 745.72,478.29" stroke="#009600" stroke-width="1.05" fill="none" stroke-linejoin="round"/>
<polyline points="809.08,436.05 809.08,478.29" stroke="#009600" stroke-width="1.05" fill="none" stroke-linejoin="round"/>
<line x1="761.56" y1="478.29" x2="793.24" y2="478.29" stroke="#840000" stroke-width="1"/>
<line x1="772.12" y1="473.01" x2="772.12" y2="483.57" stroke="#840000" stroke-width="1.05"/>
<polygon points="782.68,473.01 782.68,483.57 772.12,478.29" stroke="#840000" stroke-width="1.05" fill="none" stroke-linejoin="round"/>
<polyline points="735.16,478.29 761.56,478.29" stroke="#009600" stroke-width="1.05" fill="none" stroke-linejoin="round"/>
<polyline points="793.24,478.29 824.92,478.29 824.92,462.45" stroke="#009600" stroke-width="1.05" fill="none" stroke-linejoin="round"/>
<line x1="824.92" y1="430.77" x2="824.92" y2="436.05" stroke="#840000" stroke-width="1"/>
<line x1="824.92" y1="462.45" x2="824.92" y2="457.17" stroke="#840000" stroke-width="1"/>
<rect x="820.7" y="436.05" width="8.45" height="21.12" stroke="#840000" stroke-width="1.05" fill="none"/>
<polyline points="809.08,404.37 824.92,404.37 824.92,430.77" stroke="#009600" stroke-width="1.05" fill="none" stroke-linejoin="round"/>
<circle cx="745.72" cy="478.29" r="2.25" fill="#009600"/>
<circle cx="809.08" cy="478.29" r="2.25" fill="#009600"/>
<polyline points="809.08,478.29 809.08,483.57" stroke="#009600" stroke-width="1.05" fill="none" stroke-linejoin="round"/>
<line x1="809.08" y1="483.57" x2="809.08" y2="488.85" stroke="#840000" stroke-width="1"/>
<polygon points="803.8,488.85 814.36,488.85 809.08,494.13" stroke="#840000" stroke-width="1.05" fill="none" stroke-linejoin="round"/>
<path d="M819.64,383.25 L824.14,378.1 L851.84,378.1 L851.84,388.4 L824.14,388.4 Z" stroke="#840000" stroke-width="1.05" fill="none" stroke-linejoin="miter"/>
<text x="826.54" y="386.45" font-size="8.58" fill="#840000" font-weight="bold" textLength="21.1" lengthAdjust="spacingAndGlyphs">RF_IN</text>
<polyline points="809.08,383.25 819.64,383.25" stroke="#009600" stroke-width="1.05" fill="none" stroke-linejoin="round"/>
<path d="M735.16,478.29 L730.66,473.14 L704.86,473.14 L704.86,483.44 L730.66,483.44 Z" stroke="#840000" stroke-width="1.05" fill="none" stroke-linejoin="miter"/>
<text x="709.06" y="481.49" font-size="8.58" fill="#840000" font-weight="bold" textLength="19.2" lengthAdjust="spacingAndGlyphs">OUT5</text>
<text x="733.28" y="366.49" font-size="9.26" fill="#006464" font-weight="bold" textLength="85.7" lengthAdjust="spacingAndGlyphs">TIANBO−HJR−4102−L</text>
<text x="714.8" y="380.99" font-size="9.53" fill="#006464" font-weight="bold" textLength="19.8" lengthAdjust="spacingAndGlyphs">OUT5</text>
<text x="836.72" y="444.49" font-size="8.85" fill="#006464" font-weight="bold" textLength="14.5" lengthAdjust="spacingAndGlyphs">R10</text>
<text x="836.72" y="455.09" font-size="9.39" fill="#006464" font-weight="bold" textLength="8.8" lengthAdjust="spacingAndGlyphs">51</text>
<text x="764.98" y="468.59" font-size="8.99" fill="#006464" font-weight="bold" textLength="27.8" lengthAdjust="spacingAndGlyphs">LL4148</text>
<rect x="904.12" y="372.69" width="42.24" height="84.48" stroke="#840000" stroke-width="1.05" fill="#ffffc2"/>
<circle cx="872.44" cy="393.81" r="5.28" stroke="#840000" stroke-width="5.28" fill="none"/>
<line x1="879.93" y1="393.81" x2="888.28" y2="393.81" stroke="#840000" stroke-width="1"/>
<polyline points="888.28,393.81 893.56,393.81" stroke="#009600" stroke-width="1.05" fill="none" stroke-linejoin="round"/>
<line x1="893.56" y1="393.81" x2="914.68" y2="393.81" stroke="#840000" stroke-width="1"/>
<polyline points="914.68,393.81 941.75,401.75 936.35,404.37" stroke="#840000" stroke-width="2.3" fill="none" stroke-linejoin="round"/>
<line x1="936.35" y1="404.37" x2="956.92" y2="404.37" stroke="#840000" stroke-width="1"/>
<polygon points="936.35,383.25 939.05,386 941.75,383.25" stroke="#840000" stroke-width="1.05" fill="none" stroke-linejoin="round"/>
<line x1="941.75" y1="383.25" x2="956.92" y2="383.25" stroke="#840000" stroke-width="1"/>
<line x1="925.24" y1="397.22" x2="925.24" y2="423.38" stroke="#840000" stroke-width="1.05" stroke-dasharray="2.8,1.5"/>
<rect x="917.55" y="423.38" width="15.38" height="25.34" stroke="#840000" stroke-width="1.05" fill="none"/>
<line x1="917.55" y1="448.72" x2="932.94" y2="423.38" stroke="#840000" stroke-width="1.05"/>
<line x1="893.56" y1="436.05" x2="917.55" y2="436.05" stroke="#840000" stroke-width="1"/>
<line x1="932.94" y1="436.05" x2="956.92" y2="436.05" stroke="#840000" stroke-width="1"/>
<polyline points="893.56,436.05 893.56,478.29" stroke="#009600" stroke-width="1.05" fill="none" stroke-linejoin="round"/>
<polyline points="956.92,436.05 956.92,478.29" stroke="#009600" stroke-width="1.05" fill="none" stroke-linejoin="round"/>
<line x1="909.4" y1="478.29" x2="941.08" y2="478.29" stroke="#840000" stroke-width="1"/>
<line x1="919.96" y1="473.01" x2="919.96" y2="483.57" stroke="#840000" stroke-width="1.05"/>
<polygon points="930.52,473.01 930.52,483.57 919.96,478.29" stroke="#840000" stroke-width="1.05" fill="none" stroke-linejoin="round"/>
<polyline points="883,478.29 909.4,478.29" stroke="#009600" stroke-width="1.05" fill="none" stroke-linejoin="round"/>
<polyline points="941.08,478.29 972.76,478.29 972.76,462.45" stroke="#009600" stroke-width="1.05" fill="none" stroke-linejoin="round"/>
<line x1="972.76" y1="430.77" x2="972.76" y2="436.05" stroke="#840000" stroke-width="1"/>
<line x1="972.76" y1="462.45" x2="972.76" y2="457.17" stroke="#840000" stroke-width="1"/>
<rect x="968.54" y="436.05" width="8.45" height="21.12" stroke="#840000" stroke-width="1.05" fill="none"/>
<polyline points="956.92,404.37 972.76,404.37 972.76,430.77" stroke="#009600" stroke-width="1.05" fill="none" stroke-linejoin="round"/>
<circle cx="893.56" cy="478.29" r="2.25" fill="#009600"/>
<circle cx="956.92" cy="478.29" r="2.25" fill="#009600"/>
<polyline points="956.92,478.29 956.92,483.57" stroke="#009600" stroke-width="1.05" fill="none" stroke-linejoin="round"/>
<line x1="956.92" y1="483.57" x2="956.92" y2="488.85" stroke="#840000" stroke-width="1"/>
<polygon points="951.64,488.85 962.2,488.85 956.92,494.13" stroke="#840000" stroke-width="1.05" fill="none" stroke-linejoin="round"/>
<path d="M967.48,383.25 L971.98,378.1 L999.68,378.1 L999.68,388.4 L971.98,388.4 Z" stroke="#840000" stroke-width="1.05" fill="none" stroke-linejoin="miter"/>
<text x="974.38" y="386.45" font-size="8.58" fill="#840000" font-weight="bold" textLength="21.1" lengthAdjust="spacingAndGlyphs">RF_IN</text>
<polyline points="956.92,383.25 967.48,383.25" stroke="#009600" stroke-width="1.05" fill="none" stroke-linejoin="round"/>
<path d="M883,478.29 L878.5,473.14 L852.7,473.14 L852.7,483.44 L878.5,483.44 Z" stroke="#840000" stroke-width="1.05" fill="none" stroke-linejoin="miter"/>
<text x="856.9" y="481.49" font-size="8.58" fill="#840000" font-weight="bold" textLength="19.2" lengthAdjust="spacingAndGlyphs">OUT6</text>
<text x="881.12" y="366.49" font-size="9.26" fill="#006464" font-weight="bold" textLength="85.7" lengthAdjust="spacingAndGlyphs">TIANBO−HJR−4102−L</text>
<text x="862.64" y="380.99" font-size="9.53" fill="#006464" font-weight="bold" textLength="19.8" lengthAdjust="spacingAndGlyphs">OUT6</text>
<text x="984.56" y="444.49" font-size="8.85" fill="#006464" font-weight="bold" textLength="14.5" lengthAdjust="spacingAndGlyphs">R11</text>
<text x="984.56" y="455.09" font-size="9.39" fill="#006464" font-weight="bold" textLength="8.8" lengthAdjust="spacingAndGlyphs">51</text>
<text x="912.82" y="468.59" font-size="8.99" fill="#006464" font-weight="bold" textLength="27.8" lengthAdjust="spacingAndGlyphs">LL4148</text>
<rect x="450.04" y="520.53" width="10.56" height="84.48" stroke="#840000" stroke-width="1.05" fill="#ffffc2"/>
<circle cx="455.32" cy="525.81" r="2.65" stroke="#840000" stroke-width="1.2" fill="none"/>
<line x1="453.83" y1="528.14" x2="457.65" y2="524.32" stroke="#840000" stroke-width="1"/>
<line x1="452.99" y1="527.31" x2="456.82" y2="523.48" stroke="#840000" stroke-width="1"/>
<line x1="460.6" y1="525.81" x2="476.44" y2="525.81" stroke="#840000" stroke-width="1"/>
<text x="466.6" y="524.61" font-size="8.6" fill="#a90000" font-weight="normal" stroke="#a90000" stroke-width="0.35">1</text>
<polyline points="476.44,525.81 492.28,525.81" stroke="#009600" stroke-width="1.05" fill="none" stroke-linejoin="round"/>
<path d="M492.28,525.81 L496.78,520.66 L522.58,520.66 L522.58,530.96 L496.78,530.96 Z" stroke="#840000" stroke-width="1.05" fill="none" stroke-linejoin="miter"/>
<text x="499.18" y="529.01" font-size="8.58" fill="#840000" font-weight="bold" textLength="19.2" lengthAdjust="spacingAndGlyphs">OUT1</text>
<circle cx="455.32" cy="536.37" r="2.65" stroke="#840000" stroke-width="1.2" fill="none"/>
<line x1="453.83" y1="538.7" x2="457.65" y2="534.88" stroke="#840000" stroke-width="1"/>
<line x1="452.99" y1="537.87" x2="456.82" y2="534.04" stroke="#840000" stroke-width="1"/>
<line x1="460.6" y1="536.37" x2="476.44" y2="536.37" stroke="#840000" stroke-width="1"/>
<text x="466.6" y="535.17" font-size="8.6" fill="#a90000" font-weight="normal" stroke="#a90000" stroke-width="0.35">2</text>
<polyline points="476.44,536.37 492.28,536.37" stroke="#009600" stroke-width="1.05" fill="none" stroke-linejoin="round"/>
<path d="M492.28,536.37 L496.78,531.22 L522.58,531.22 L522.58,541.52 L496.78,541.52 Z" stroke="#840000" stroke-width="1.05" fill="none" stroke-linejoin="miter"/>
<text x="499.18" y="539.57" font-size="8.58" fill="#840000" font-weight="bold" textLength="19.2" lengthAdjust="spacingAndGlyphs">OUT2</text>
<circle cx="455.32" cy="546.93" r="2.65" stroke="#840000" stroke-width="1.2" fill="none"/>
<line x1="453.83" y1="549.26" x2="457.65" y2="545.44" stroke="#840000" stroke-width="1"/>
<line x1="452.99" y1="548.43" x2="456.82" y2="544.6" stroke="#840000" stroke-width="1"/>
<line x1="460.6" y1="546.93" x2="476.44" y2="546.93" stroke="#840000" stroke-width="1"/>
<text x="466.6" y="545.73" font-size="8.6" fill="#a90000" font-weight="normal" stroke="#a90000" stroke-width="0.35">3</text>
<polyline points="476.44,546.93 492.28,546.93" stroke="#009600" stroke-width="1.05" fill="none" stroke-linejoin="round"/>
<path d="M492.28,546.93 L496.78,541.78 L522.58,541.78 L522.58,552.08 L496.78,552.08 Z" stroke="#840000" stroke-width="1.05" fill="none" stroke-linejoin="miter"/>
<text x="499.18" y="550.13" font-size="8.58" fill="#840000" font-weight="bold" textLength="19.2" lengthAdjust="spacingAndGlyphs">OUT3</text>
<circle cx="455.32" cy="557.49" r="2.65" stroke="#840000" stroke-width="1.2" fill="none"/>
<line x1="453.83" y1="559.82" x2="457.65" y2="556" stroke="#840000" stroke-width="1"/>
<line x1="452.99" y1="558.99" x2="456.82" y2="555.16" stroke="#840000" stroke-width="1"/>
<line x1="460.6" y1="557.49" x2="476.44" y2="557.49" stroke="#840000" stroke-width="1"/>
<text x="466.6" y="556.29" font-size="8.6" fill="#a90000" font-weight="normal" stroke="#a90000" stroke-width="0.35">4</text>
<polyline points="476.44,557.49 492.28,557.49" stroke="#009600" stroke-width="1.05" fill="none" stroke-linejoin="round"/>
<path d="M492.28,557.49 L496.78,552.34 L522.58,552.34 L522.58,562.64 L496.78,562.64 Z" stroke="#840000" stroke-width="1.05" fill="none" stroke-linejoin="miter"/>
<text x="499.18" y="560.69" font-size="8.58" fill="#840000" font-weight="bold" textLength="19.2" lengthAdjust="spacingAndGlyphs">OUT4</text>
<circle cx="455.32" cy="568.05" r="2.65" stroke="#840000" stroke-width="1.2" fill="none"/>
<line x1="453.83" y1="570.38" x2="457.65" y2="566.56" stroke="#840000" stroke-width="1"/>
<line x1="452.99" y1="569.55" x2="456.82" y2="565.72" stroke="#840000" stroke-width="1"/>
<line x1="460.6" y1="568.05" x2="476.44" y2="568.05" stroke="#840000" stroke-width="1"/>
<text x="466.6" y="566.85" font-size="8.6" fill="#a90000" font-weight="normal" stroke="#a90000" stroke-width="0.35">5</text>
<polyline points="476.44,568.05 492.28,568.05" stroke="#009600" stroke-width="1.05" fill="none" stroke-linejoin="round"/>
<path d="M492.28,568.05 L496.78,562.9 L522.58,562.9 L522.58,573.2 L496.78,573.2 Z" stroke="#840000" stroke-width="1.05" fill="none" stroke-linejoin="miter"/>
<text x="499.18" y="571.25" font-size="8.58" fill="#840000" font-weight="bold" textLength="19.2" lengthAdjust="spacingAndGlyphs">OUT5</text>
<circle cx="455.32" cy="578.61" r="2.65" stroke="#840000" stroke-width="1.2" fill="none"/>
<line x1="453.83" y1="580.94" x2="457.65" y2="577.12" stroke="#840000" stroke-width="1"/>
<line x1="452.99" y1="580.11" x2="456.82" y2="576.28" stroke="#840000" stroke-width="1"/>
<line x1="460.6" y1="578.61" x2="476.44" y2="578.61" stroke="#840000" stroke-width="1"/>
<text x="466.6" y="577.41" font-size="8.6" fill="#a90000" font-weight="normal" stroke="#a90000" stroke-width="0.35">6</text>
<polyline points="476.44,578.61 492.28,578.61" stroke="#009600" stroke-width="1.05" fill="none" stroke-linejoin="round"/>
<path d="M492.28,578.61 L496.78,573.46 L522.58,573.46 L522.58,583.76 L496.78,583.76 Z" stroke="#840000" stroke-width="1.05" fill="none" stroke-linejoin="miter"/>
<text x="499.18" y="581.81" font-size="8.58" fill="#840000" font-weight="bold" textLength="19.2" lengthAdjust="spacingAndGlyphs">OUT6</text>
<circle cx="455.32" cy="589.17" r="2.65" stroke="#840000" stroke-width="1.2" fill="none"/>
<line x1="453.83" y1="591.5" x2="457.65" y2="587.68" stroke="#840000" stroke-width="1"/>
<line x1="452.99" y1="590.67" x2="456.82" y2="586.84" stroke="#840000" stroke-width="1"/>
<line x1="460.6" y1="589.17" x2="476.44" y2="589.17" stroke="#840000" stroke-width="1"/>
<text x="466.6" y="587.97" font-size="8.6" fill="#a90000" font-weight="normal" stroke="#a90000" stroke-width="0.35">7</text>
<polyline points="476.44,589.17 492.28,589.17" stroke="#009600" stroke-width="1.05" fill="none" stroke-linejoin="round"/>
<path d="M492.28,589.17 L496.78,584.02 L526.58,584.02 L526.58,594.32 L496.78,594.32 Z" stroke="#840000" stroke-width="1.05" fill="none" stroke-linejoin="miter"/>
<text x="499.18" y="592.37" font-size="8.58" fill="#840000" font-weight="bold" textLength="23.2" lengthAdjust="spacingAndGlyphs">PA_EN</text>
<circle cx="455.32" cy="599.73" r="2.65" stroke="#840000" stroke-width="1.2" fill="none"/>
<line x1="453.83" y1="602.06" x2="457.65" y2="598.24" stroke="#840000" stroke-width="1"/>
<line x1="452.99" y1="601.23" x2="456.82" y2="597.4" stroke="#840000" stroke-width="1"/>
<line x1="460.6" y1="599.73" x2="476.44" y2="599.73" stroke="#840000" stroke-width="1"/>
<text x="466.6" y="598.53" font-size="8.6" fill="#a90000" font-weight="normal" stroke="#a90000" stroke-width="0.35">8</text>
<polyline points="476.44,599.73 481.72,599.73 481.72,610.29" stroke="#009600" stroke-width="1.05" fill="none" stroke-linejoin="round"/>
<line x1="481.72" y1="610.29" x2="481.72" y2="615.57" stroke="#840000" stroke-width="1"/>
<polygon points="476.44,615.57 487,615.57 481.72,620.85" stroke="#840000" stroke-width="1.05" fill="none" stroke-linejoin="round"/>
<text x="409" y="570.6" font-size="8.45" fill="#006464" font-weight="bold" textLength="35" lengthAdjust="spacingAndGlyphs">CONTROL</text>
<circle cx="761.56" cy="562.77" r="5.28" stroke="#840000" stroke-width="5.28" fill="none"/>
<line x1="769.05" y1="562.77" x2="777.4" y2="562.77" stroke="#840000" stroke-width="1"/>
<polyline points="777.4,562.77 787.96,562.77" stroke="#009600" stroke-width="1.05" fill="none" stroke-linejoin="round"/>
<path d="M787.96,562.77 L792.46,557.62 L827.06,557.62 L827.06,567.92 L792.46,567.92 Z" stroke="#840000" stroke-width="1.05" fill="none" stroke-linejoin="miter"/>
<text x="794.86" y="565.97" font-size="8.58" fill="#840000" font-weight="bold" textLength="28" lengthAdjust="spacingAndGlyphs">RF_OUT</text>
<text x="757.8" y="549.7" font-size="8.72" fill="#006464" font-weight="bold" textLength="7.3" lengthAdjust="spacingAndGlyphs">IN</text>
<circle cx="983.32" cy="594.45" r="5.28" stroke="#840000" stroke-width="5.28" fill="none"/>
<line x1="983.32" y1="601.94" x2="983.32" y2="610.29" stroke="#840000" stroke-width="1"/>
<circle cx="1004.44" cy="594.45" r="5.28" stroke="#840000" stroke-width="5.28" fill="none"/>
<line x1="1004.44" y1="601.94" x2="1004.44" y2="610.29" stroke="#840000" stroke-width="1"/>
<circle cx="1025.57" cy="594.45" r="5.28" stroke="#840000" stroke-width="5.28" fill="none"/>
<line x1="1025.57" y1="601.94" x2="1025.57" y2="610.29" stroke="#840000" stroke-width="1"/>
<circle cx="1046.69" cy="594.45" r="5.28" stroke="#840000" stroke-width="5.28" fill="none"/>
<line x1="1046.69" y1="601.94" x2="1046.69" y2="610.29" stroke="#840000" stroke-width="1"/>
<polyline points="983.32,610.29 1046.69,610.29" stroke="#009600" stroke-width="1.05" fill="none" stroke-linejoin="round"/>
<circle cx="1004.44" cy="610.29" r="2.25" fill="#009600"/>
<circle cx="1015" cy="610.29" r="2.25" fill="#009600"/>
<circle cx="1025.57" cy="610.29" r="2.25" fill="#009600"/>
<polyline points="1015,610.29 1015,620.85" stroke="#009600" stroke-width="1.05" fill="none" stroke-linejoin="round"/>
<line x1="1015" y1="620.85" x2="1015" y2="626.13" stroke="#840000" stroke-width="1"/>
<polygon points="1009.72,626.13 1020.29,626.13 1015,631.41" stroke="#840000" stroke-width="1.05" fill="none" stroke-linejoin="round"/>
<text x="1058.3" y="592" font-size="7.5" fill="#006464" font-weight="bold" textLength="9.5" lengthAdjust="spacingAndGlyphs">H1</text>
<text x="1058.3" y="602.7" font-size="8.99" fill="#006464" font-weight="bold" textLength="70.8" lengthAdjust="spacingAndGlyphs">MountingHole_Pad</text>
<text x="116.6" y="276" font-size="9.26" fill="#006464" font-weight="bold" textLength="24.9" lengthAdjust="spacingAndGlyphs">470uH</text>
<text x="110.8" y="297.8" font-size="9.12" fill="#006464" font-weight="bold" textLength="19.2" lengthAdjust="spacingAndGlyphs">100n</text>
<text x="158.9" y="291.4" font-size="9.53" fill="#006464" font-weight="bold" textLength="24.2" lengthAdjust="spacingAndGlyphs">220uF</text>
<text x="189.9" y="292.6" font-size="8.99" fill="#006464" font-weight="bold" textLength="19.2" lengthAdjust="spacingAndGlyphs">100n</text>
<text x="221" y="292.6" font-size="8.99" fill="#006464" font-weight="bold" textLength="13.9" lengthAdjust="spacingAndGlyphs">10u</text>
<text x="245.1" y="292.6" font-size="8.99" fill="#006464" font-weight="bold" textLength="13.9" lengthAdjust="spacingAndGlyphs">10n</text>
<text x="246" y="277.9" font-size="9.53" fill="#006464" font-weight="bold" textLength="28" lengthAdjust="spacingAndGlyphs">LL4148</text>
<text x="321.2" y="206.7" font-size="9.26" fill="#006464" font-weight="bold" textLength="77.9" lengthAdjust="spacingAndGlyphs">HJR1−2C−L−12VDC</text>
<text x="182.1" y="344.2" font-size="8.85" fill="#006464" font-weight="bold" textLength="19.1" lengthAdjust="spacingAndGlyphs">100n</text>
<text x="187.2" y="381.1" font-size="8.58" fill="#006464" font-weight="bold" textLength="9" lengthAdjust="spacingAndGlyphs">3k</text>
<text x="128.9" y="412.8" font-size="8.99" fill="#006464" font-weight="bold" textLength="19.1" lengthAdjust="spacingAndGlyphs">100n</text>
<text x="212.5" y="414.9" font-size="8.99" fill="#006464" font-weight="bold" textLength="29.6" lengthAdjust="spacingAndGlyphs">2N5109</text>
<text x="282" y="386.7" font-size="9.53" fill="#006464" font-weight="bold" textLength="30.3" lengthAdjust="spacingAndGlyphs">T50−43</text>
<text x="282.9" y="397.1" font-size="9.53" fill="#006464" font-weight="bold" textLength="28.2" lengthAdjust="spacingAndGlyphs">10T bif</text>
<text x="345.8" y="392.1" font-size="9.8" fill="#006464" font-weight="bold" textLength="19" lengthAdjust="spacingAndGlyphs">100n</text>
<text x="251.3" y="507.8" font-size="9.26" fill="#006464" font-weight="bold" textLength="18.9" lengthAdjust="spacingAndGlyphs">100n</text>
<text x="164.92" y="401.89" font-size="7.57" fill="#006464" font-weight="bold" textLength="14.5" lengthAdjust="spacingAndGlyphs" text-anchor="middle" transform="rotate(-90 164.92 399.09)">560</text>
<text x="164.92" y="449.41" font-size="7.57" fill="#006464" font-weight="bold" textLength="9" lengthAdjust="spacingAndGlyphs" text-anchor="middle" transform="rotate(-90 164.92 446.61)">1k</text>
<text x="207.16" y="470.53" font-size="7.57" fill="#006464" font-weight="bold" textLength="14" lengthAdjust="spacingAndGlyphs" text-anchor="middle" transform="rotate(-90 207.16 467.73)">4.7</text>
<text x="207.16" y="507.49" font-size="7.57" fill="#006464" font-weight="bold" textLength="9" lengthAdjust="spacingAndGlyphs" text-anchor="middle" transform="rotate(-90 207.16 504.69)">10</text>
<text x="700" y="725.1" font-size="9.8" fill="#840000" font-weight="normal" stroke="#840000" stroke-width="0.35" textLength="39.8" lengthAdjust="spacing">Sheet: /</text>
<text x="700" y="735.5" font-size="9.8" fill="#840000" font-weight="normal" stroke="#840000" stroke-width="0.35" textLength="154.4" lengthAdjust="spacing">File: rx<tspan dy="-0.4">_</tspan><tspan dy="0.4">switch</tspan><tspan dy="-0.4">_</tspan><tspan dy="0.4">6</tspan><tspan dy="-0.4">_</tspan><tspan dy="0.4">ports.kicad</tspan><tspan dy="-0.4">_</tspan><tspan dy="0.4">sch</tspan></text>
<text x="701" y="752.6" font-size="12.64" fill="#840000" font-weight="normal" font-style="italic" stroke="#840000" stroke-width="0.75" textLength="347.5" lengthAdjust="spacing">Title: RX antenna switch with preamp +18dB (6 ports)</text>
<text x="700" y="767" font-size="9.53" fill="#840000" font-weight="normal" stroke="#840000" stroke-width="0.35" textLength="37.8" lengthAdjust="spacing">Size: A4</text>
<text x="791.7" y="767" font-size="9.53" fill="#840000" font-weight="normal" stroke="#840000" stroke-width="0.35" textLength="90.6" lengthAdjust="spacing">Date: 2026-01-03</text>
<text x="700" y="778.8" font-size="9.53" fill="#840000" font-weight="normal" stroke="#840000" stroke-width="0.35" textLength="85.3" lengthAdjust="spacing">KiCad E.D.A. 9.0.6</text>
<text x="1053" y="767" font-size="9.53" fill="#840000" font-weight="bold" textLength="18" lengthAdjust="spacing">Rev:</text>
<text x="1053" y="778.8" font-size="9.53" fill="#840000" font-weight="normal" stroke="#840000" stroke-width="0.35" textLength="33" lengthAdjust="spacing">Id: 1/1</text>
</g>
</svg></body></html>
